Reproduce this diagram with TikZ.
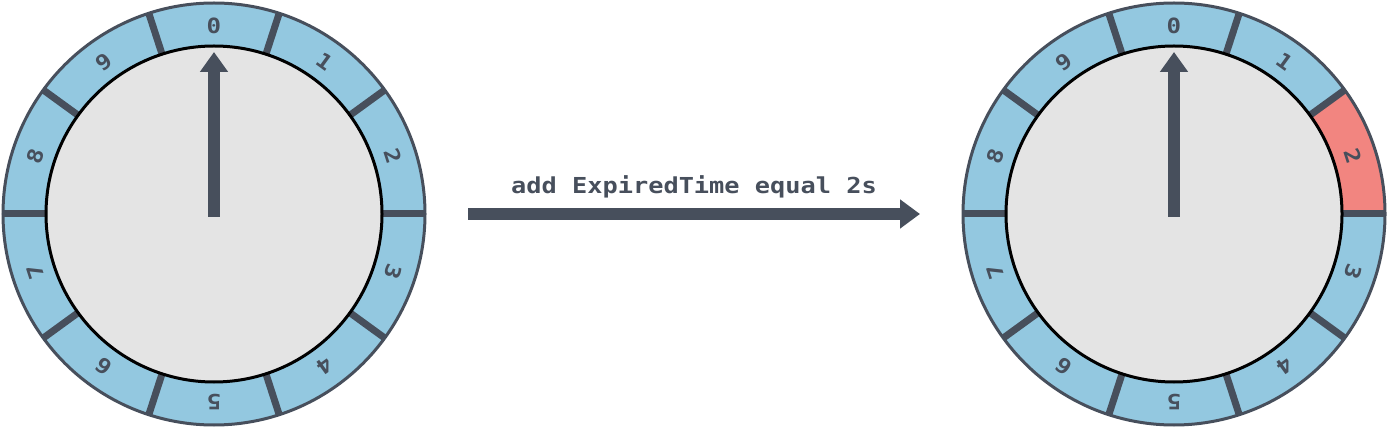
\documentclass[tikz,border=0pt]{standalone}
\usepackage{fontspec}
\newfontfamily\codefont[FakeStretch=1.15]{DejaVu Sans Mono Bold}
\usetikzlibrary{arrows.meta}
\definecolor{ringblue}{HTML}{93C8E0}
\definecolor{hubgray}{HTML}{E4E4E4}
\definecolor{darkline}{HTML}{474F5C}
\definecolor{hotred}{HTML}{F28580}
\tikzset{
	slotline/.style={darkline, line width=7},
	slotlabel/.style={text=darkline, font=\codefont\fontsize{21}{21}\selectfont, inner sep=0},
	hand/.style={darkline, line width=12, -{Triangle[width=27, length=20]}},
}
\begin{document}
\begin{tikzpicture}[x=1pt, y=1pt]
	\useasboundingbox (0, 0) rectangle (1388, 431);
	\coordinate (left) at (214, 217);
	\coordinate (right) at (1174, 217);
	
	% ring and hub of both wheels
	\foreach \w in {left, right} {
		\fill[ringblue] (\w) circle (211);
	}
	\fill[hotred] ([shift={(right)}]0:167) arc (0:36:167) -- ([shift={(right)}]36:211) arc (36:0:211) -- cycle;
	\foreach \w in {left, right} {
		\fill[hubgray] (\w) circle (168);
		\foreach \a in {0, 36, ..., 324}
			\draw[slotline] ([shift={(\w)}]\a:167) -- ([shift={(\w)}]\a:211);
		\draw[black, line width=3] (\w) circle (168);
		\draw[darkline, line width=3] (\w) circle (211);
		\foreach \k in {0, ..., 9}
			\node[slotlabel, rotate=-36*\k] (\w-\k) at ([shift={(\w)}]90-36*\k:188) {\k};
		\draw[hand] ([yshift=-3]\w) -- ([yshift=162]\w);
	}
	
	% step between the wheels
	\coordinate (go-start) at (468, 217);
	\coordinate (go-end) at (920, 217);
	\draw[hand, -{Triangle[width=28, length=20]}] (go-start) -- (go-end);
	\node[text=darkline, font=\codefont\fontsize{22}{22}\selectfont, anchor=base] (step-text) at (694, 237) {add ExpiredTime equal 2s};
\end{tikzpicture}
\end{document}
